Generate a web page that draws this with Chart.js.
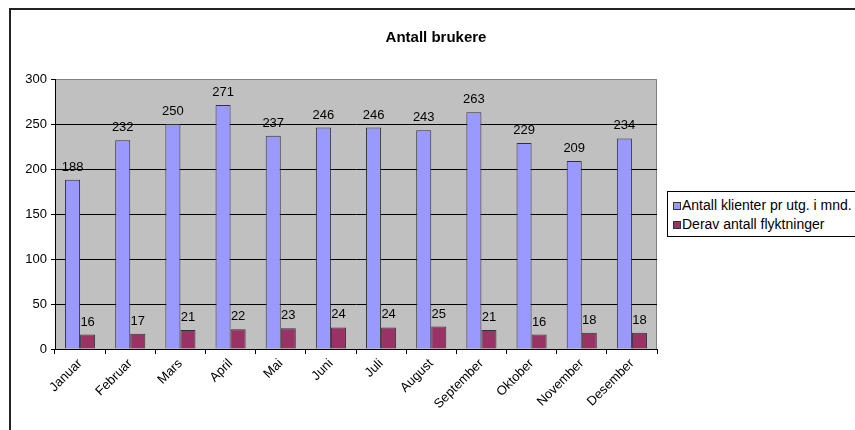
<!DOCTYPE html>
<html>
<head>
<meta charset="utf-8">
<script src="https://cdn.jsdelivr.net/npm/chart.js@4/dist/chart.umd.min.js"></script>
<style>
    body { margin: 0; background: #fff; font-family: 'Liberation Sans', Arial, sans-serif; }
    #wrap { position: relative; width: 855px; height: 430px; overflow: hidden; }
    #ramme { position: absolute; left: 9px; top: 8px; width: 900px; height: 500px; border: 2px solid #222; pointer-events: none; }
    #forklaring { position: absolute; left: 667px; top: 191px; width: 220px; height: 44px; border: 1px solid #000; background: #fff; font-size: 14px; }
    #forklaring div { position: absolute; left: 5px; white-space: nowrap; line-height: 16px; }
    #forklaring span { display: inline-block; width: 6px; height: 6px; border: 1px solid #333; margin-right: 1px; vertical-align: 0px; }
</style>
</head>
<body>
<div id="wrap">
    <canvas id="grafico" width="855" height="430"></canvas>
    <div id="ramme"></div>
    <div id="forklaring"></div>
</div>
<script>
var maneder = ['Januar', 'Februar', 'Mars', 'April', 'Mai', 'Juni', 'Juli', 'August', 'September', 'Oktober', 'November', 'Desember'];
var klienter = [188, 232, 250, 271, 237, 246, 246, 243, 263, 229, 209, 234];
var flyktninger = [16, 17, 21, 22, 23, 24, 24, 25, 21, 16, 18, 18];
var yTicks = [0, 50, 100, 150, 200, 250, 300];

var fonte = "'Liberation Sans', Arial, sans-serif";

const dataSet = (label, data, backgroundColor) => {
    return {
        label: label,
        data: data,
        backgroundColor: backgroundColor,
        borderColor: '#333',
        borderWidth: 1,
        categoryPercentage: 0.6,
        barPercentage: 1.0
    }
}

// grå bakgrunn i plottet
const bakgrunn = {
    id: 'bakgrunn',
    beforeDraw(chart) {
        const a = chart.chartArea;
        const ctx = chart.ctx;
        ctx.save();
        ctx.fillStyle = '#c0c0c0';
        ctx.fillRect(a.left, a.top, a.right - a.left, a.bottom - a.top);
        ctx.strokeStyle = '#808080';
        ctx.lineWidth = 1;
        ctx.strokeRect(a.left + 0.5, a.top + 0.5, a.right - a.left - 1, a.bottom - a.top);
        ctx.restore();
    }
};

// verdier over søylene
const verdier = {
    id: 'verdier',
    afterDatasetsDraw(chart) {
        const ctx = chart.ctx;
        ctx.save();
        ctx.font = '13px ' + fonte;
        ctx.fillStyle = '#000';
        ctx.textAlign = 'center';
        ctx.textBaseline = 'alphabetic';
        chart.data.datasets.forEach((ds, i) => {
            chart.getDatasetMeta(i).data.forEach((el, j) => {
                ctx.fillText(String(ds.data[j]), el.x, el.y - 9);
            });
        });
        ctx.restore();
    }
};

var grafico = new Chart(document.getElementById('grafico'), {
    type: 'bar',
    data: {
        labels: maneder,
        datasets: [
            dataSet('Antall klienter pr utg. i mnd.', klienter, '#9999ff'),
            dataSet('Derav antall flyktninger', flyktninger, '#993366')
        ]
    },
    options: {
        responsive: false,
        animation: false,
        layout: { padding: { left: 17, right: 0, top: 0, bottom: 0 } },
        plugins: {
            legend: { display: false },
            tooltip: { enabled: false },
            title: {
                display: true,
                text: 'Antall brukere',
                color: '#000',
                font: { family: fonte, size: 15, weight: 'bold', lineHeight: 1.2 },
                padding: { top: 29, bottom: 32 }
            }
        },
        scales: {
            x: {
                grid: { offset: true, drawOnChartArea: false, drawTicks: true, tickLength: 5, tickColor: '#000' },
                border: { color: '#000' },
                ticks: { color: '#000', font: { family: fonte, size: 13 }, minRotation: 45, maxRotation: 45, padding: 2, autoSkip: false },
                afterFit: (s) => { s.height = 81; }
            },
            y: {
                min: 0,
                max: 300,
                afterBuildTicks: (s) => { s.ticks = yTicks.map(v => ({ value: v })); },
                grid: {
                    color: (c) => c.tick && c.tick.value === 300 ? '#808080' : '#000',
                    tickColor: '#000',
                    tickLength: 4
                },
                border: { color: '#000' },
                ticks: { color: '#000', font: { family: fonte, size: 13 }, padding: 4 },
                afterFit: (s) => { s.width = 38; }
            },
            y2: {
                position: 'right',
                display: true,
                grid: { display: false },
                border: { display: false },
                ticks: { display: false },
                afterFit: (s) => { s.width = 198; }
            }
        }
    },
    plugins: [bakgrunn, verdier]
});

// forklaring bygget fra datasettene
var forklaring = document.getElementById('forklaring');
grafico.data.datasets.forEach((ds, i) => {
    var rad = document.createElement('div');
    rad.style.top = (5 + i * 19) + 'px';
    rad.innerHTML = '<span style="background:' + ds.backgroundColor + '"></span>' + ds.label;
    forklaring.appendChild(rad);
});
</script>
</body>
</html>
